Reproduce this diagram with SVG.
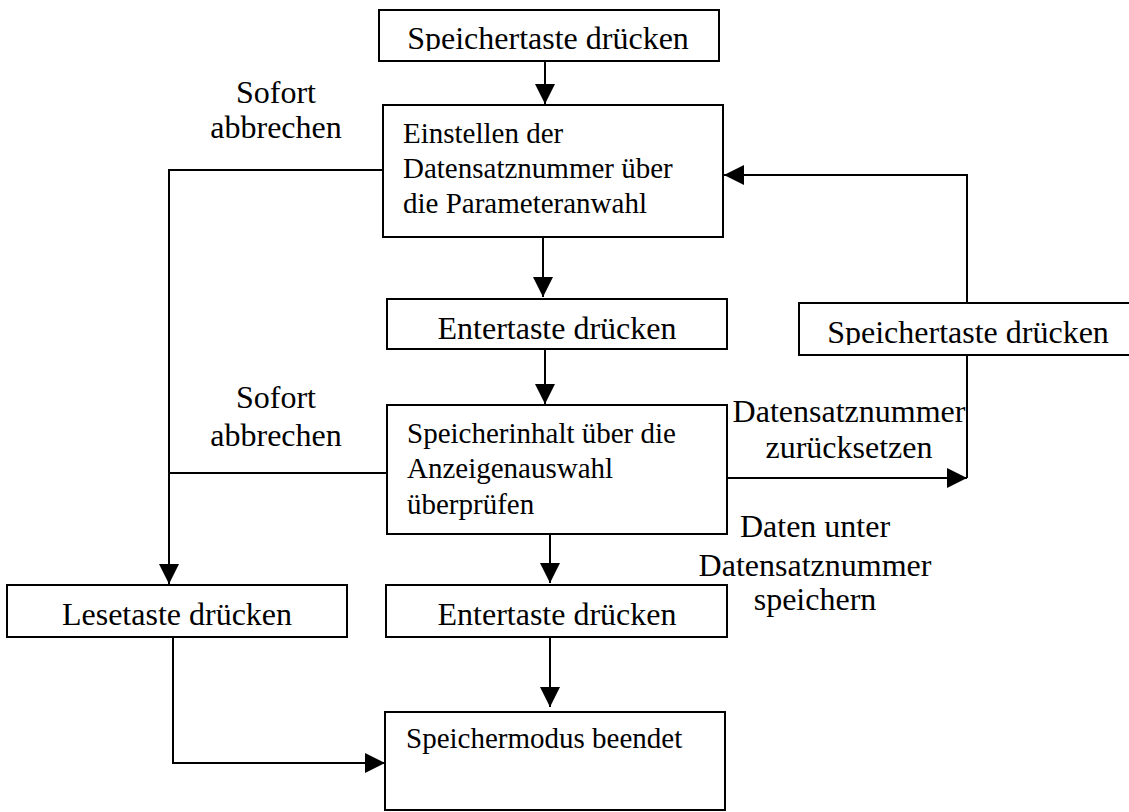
<svg xmlns="http://www.w3.org/2000/svg" width="1129" height="812" viewBox="0 0 1129 812">
  <style>
    .box { fill: #fff; stroke: #000; stroke-width: 2; }
    .t { font-family: "Liberation Serif", "Times New Roman", serif; fill: #000; }
    .t1 { font-size: 32px; }
    .t2 { font-size: 29px; }
    .lbl { font-size: 32px; text-anchor: middle; }
    .wire { fill: none; stroke: #000; stroke-width: 2; }
  </style>
  <defs>
    <marker id="arrow" markerUnits="userSpaceOnUse" markerWidth="20" markerHeight="20" refX="20" refY="10" orient="auto">
      <path d="M0,0 L20,10 L0,20 z" fill="#000"/>
    </marker>
    <clipPath id="clipTop"><rect x="380" y="11" width="338" height="40"/></clipPath>
    <clipPath id="clipRight"><rect x="800" y="304" width="329" height="41"/></clipPath>
  </defs>

  <!-- connectors -->
  <g id="connectors" class="wire">
    <path d="M545,61 V104" marker-end="url(#arrow)"/>
    <path d="M543,237 V297" marker-end="url(#arrow)"/>
    <path d="M545,349 V404" marker-end="url(#arrow)"/>
    <path d="M550,534 V583" marker-end="url(#arrow)"/>
    <path d="M550,637 V707" marker-end="url(#arrow)"/>
    <!-- abort branches to the read key -->
    <path d="M383,170 H169 V584" marker-end="url(#arrow)"/>
    <path d="M387,473 H169"/>
    <path d="M173,637 V763 H385" marker-end="url(#arrow)"/>
    <!-- reset loop back to record number setting -->
    <path d="M727,478 H967" marker-end="url(#arrow)"/>
    <path d="M967,478 V355"/>
    <path d="M967,303 V175 H724" marker-end="url(#arrow)"/>
  </g>

  <g id="n-speichertaste-top">
    <rect class="box" x="379" y="10" width="340" height="51"/>
    <text class="t t1" x="548" y="49" text-anchor="middle" clip-path="url(#clipTop)">Speichertaste drücken</text>
  </g>

  <g id="n-einstellen">
    <rect class="box" x="383" y="105" width="340" height="132"/>
    <text class="t t2" x="403" y="143">Einstellen der</text>
    <text class="t t2" x="403" y="178">Datensatznummer über</text>
    <text class="t t2" x="403" y="213">die Parameteranwahl</text>
  </g>

  <g id="n-entertaste-1">
    <rect class="box" x="387" y="299" width="340" height="50"/>
    <text class="t t1" x="557" y="339" text-anchor="middle">Entertaste drücken</text>
  </g>

  <g id="n-speichertaste-right">
    <rect class="box" x="799" y="303" width="334" height="52"/>
    <text class="t t1" x="968" y="343" text-anchor="middle" clip-path="url(#clipRight)">Speichertaste drücken</text>
  </g>

  <g id="n-speicherinhalt">
    <rect class="box" x="387" y="405" width="340" height="129"/>
    <text class="t t2" x="407" y="443">Speicherinhalt über die</text>
    <text class="t t2" x="407" y="478">Anzeigenauswahl</text>
    <text class="t t2" x="407" y="514">überprüfen</text>
  </g>

  <g id="n-lesetaste">
    <rect class="box" x="7" y="585" width="340" height="52"/>
    <text class="t t1" x="177" y="625" text-anchor="middle">Lesetaste drücken</text>
  </g>

  <g id="n-entertaste-2">
    <rect class="box" x="386" y="585" width="341" height="52"/>
    <text class="t t1" x="557" y="625" text-anchor="middle">Entertaste drücken</text>
  </g>

  <g id="n-speichermodus">
    <rect class="box" x="385" y="712" width="340" height="98"/>
    <text class="t t2" x="406" y="748">Speichermodus beendet</text>
  </g>

  <!-- edge labels -->
  <g id="labels">
    <text class="t lbl" x="276" y="103">Sofort</text>
    <text class="t lbl" x="276" y="138">abbrechen</text>
    <text class="t lbl" x="276" y="408">Sofort</text>
    <text class="t lbl" x="276" y="446">abbrechen</text>
    <text class="t lbl" x="849" y="422">Datensatznummer</text>
    <text class="t lbl" x="849" y="458">zurücksetzen</text>
    <text class="t lbl" x="815" y="537">Daten unter</text>
    <text class="t lbl" x="815" y="576">Datensatznummer</text>
    <text class="t lbl" x="815" y="610">speichern</text>
  </g>
</svg>
